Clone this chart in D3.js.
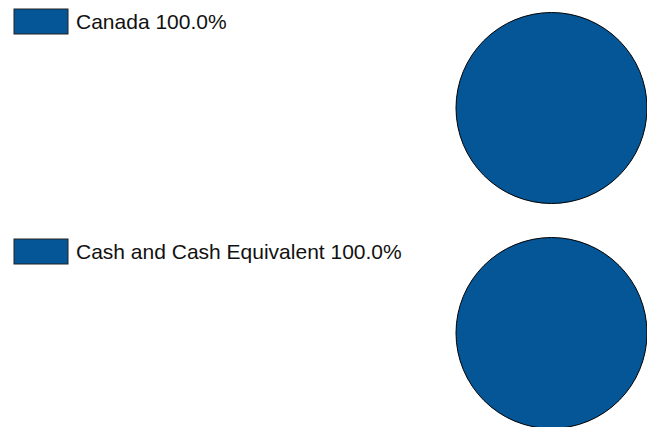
<!DOCTYPE html>
<html>
<head>
<meta charset="utf-8">
<script src="https://cdn.jsdelivr.net/npm/d3@7"></script>
<style>
  body { margin: 0; background: #fff; }
  svg { display: block; }
  text { font-family: "Liberation Sans", Arial, sans-serif; font-size: 21px; fill: #111; }
</style>
</head>
<body>
<svg width="647" height="427"></svg>
<script>
const width = 647;
const height = 427;

// one pie per panel
const panelNames = ["Canada", "Cash and Cash Equivalent"];
const panelValues = [[100.0], [100.0]];
const panelColors = ["#055696"];

const panelTop = [0, 230];
const radius = 95.5;

const svg = d3.select("svg");
const color = d3.scaleOrdinal().range(panelColors);

const pie = d3.pie().sort(null);
const arc = d3.arc().innerRadius(0).outerRadius(radius);

panelNames.forEach((name, i) => {
  const g = svg.append("g").attr("transform", `translate(0,${panelTop[i]})`);
  const total = d3.sum(panelValues[i]);

  // legend
  const legend = g
    .selectAll(".legend")
    .data(panelValues[i])
    .enter()
    .append("g")
    .attr("class", "legend")
    .attr("transform", (d, j) => `translate(14,${9 + j * 30})`);

  legend
    .append("rect")
    .attr("width", 54)
    .attr("height", 25)
    .attr("fill", (d, j) => color(j))
    .attr("stroke", "#222")
    .attr("stroke-width", 1);

  legend
    .append("text")
    .attr("x", 62)
    .attr("y", 19.5)
    .text((d) => `${name} ${d3.format(".1f")((d / total) * 100)}%`);

  // pie
  const cy = i === 0 ? 108 : 103;
  const pg = g.append("g").attr("transform", `translate(551.5,${cy})`);
  const slices = pie(panelValues[i]);
  pg.selectAll("path")
    .data(slices)
    .enter()
    .append("path")
    .attr("d", arc)
    .attr("fill", (d, j) => color(j))
    .attr("stroke", "#000")
    .attr("stroke-width", 1);
});
</script>
</body>
</html>
